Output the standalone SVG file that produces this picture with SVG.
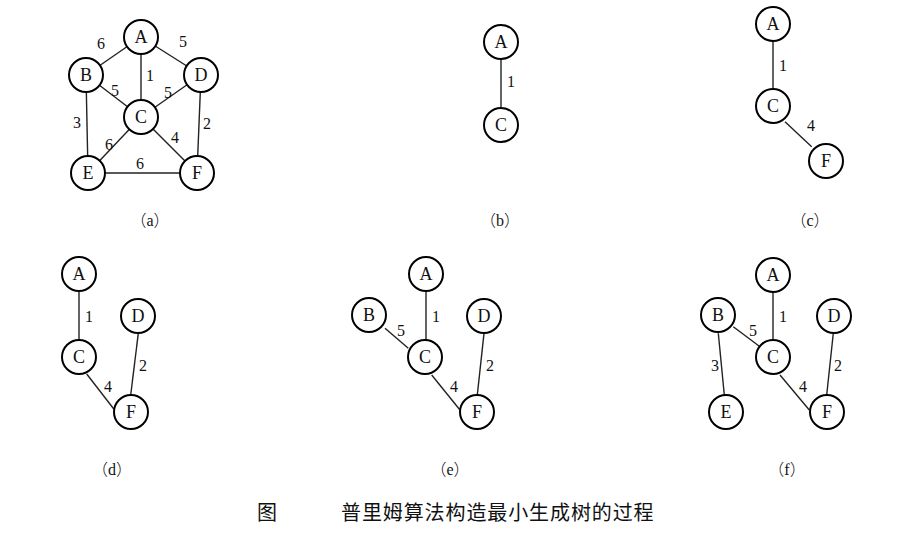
<svg xmlns="http://www.w3.org/2000/svg" width="908" height="535" viewBox="0 0 908 535">
<style>
.n circle{fill:#fff;stroke:#000;stroke-width:2}
.n text{font-family:"Liberation Serif","Times New Roman",serif;font-size:18px;text-anchor:middle;fill:#111}
.e line{stroke:#222;stroke-width:1.4}
.w{font-family:"Liberation Serif","Times New Roman",serif;font-size:16px;text-anchor:middle;fill:#111}
.cap{font-family:"Liberation Serif","Times New Roman",serif;font-size:16px;text-anchor:middle;fill:#111}
.p{font-family:"Noto Sans CJK TC",sans-serif;font-weight:300}
.title{font-family:"Noto Sans CJK SC",serif;font-size:20px;fill:#111}
</style>
<rect width="908" height="535" fill="#fff"/>
<g id="connectors" class="e">
<!-- a -->
<line x1="141" y1="37" x2="86" y2="75"/>
<line x1="141" y1="37" x2="201" y2="75"/>
<line x1="141" y1="37" x2="141" y2="117"/>
<line x1="86" y1="75" x2="141" y2="117"/>
<line x1="201" y1="75" x2="141" y2="117"/>
<line x1="86" y1="75" x2="88" y2="173"/>
<line x1="201" y1="75" x2="197" y2="173"/>
<line x1="141" y1="117" x2="88" y2="173"/>
<line x1="141" y1="117" x2="197" y2="173"/>
<line x1="88" y1="173" x2="197" y2="173"/>
<!-- b -->
<line x1="501" y1="42" x2="501" y2="125"/>
<!-- c -->
<line x1="773" y1="24" x2="773" y2="106"/>
<line x1="785" y1="121.7" x2="811.7" y2="146.7"/>
<!-- d -->
<line x1="79" y1="274" x2="79" y2="357"/>
<line x1="86.7" y1="374" x2="114" y2="409.3"/>
<line x1="138.3" y1="333.3" x2="130.7" y2="395"/>
<!-- e -->
<line x1="426" y1="274" x2="426" y2="357"/>
<line x1="385" y1="328.3" x2="408.3" y2="348.3"/>
<line x1="431.7" y1="375" x2="460" y2="410"/>
<line x1="484" y1="333.3" x2="477.3" y2="395"/>
<!-- f -->
<line x1="773" y1="275" x2="773" y2="357"/>
<line x1="733.3" y1="326.7" x2="760" y2="346.7"/>
<line x1="718.3" y1="333.3" x2="724.3" y2="395"/>
<line x1="780" y1="375" x2="809.3" y2="410"/>
<line x1="833.3" y1="333.3" x2="826.7" y2="395"/>
</g>
<g id="weights">
<text class="w" x="101" y="49">6</text>
<text class="w" x="183" y="47">5</text>
<text class="w" x="150" y="81">1</text>
<text class="w" x="115" y="96">5</text>
<text class="w" x="168" y="98">5</text>
<text class="w" x="77" y="128">3</text>
<text class="w" x="207" y="129">2</text>
<text class="w" x="109" y="150">6</text>
<text class="w" x="175" y="143">4</text>
<text class="w" x="140" y="169">6</text>
<text class="w" x="511" y="87">1</text>
<text class="w" x="783" y="71">1</text>
<text class="w" x="811" y="131">4</text>
<text class="w" x="89" y="322">1</text>
<text class="w" x="143" y="371">2</text>
<text class="w" x="108" y="392">4</text>
<text class="w" x="436" y="322">1</text>
<text class="w" x="401" y="336">5</text>
<text class="w" x="490" y="371">2</text>
<text class="w" x="454" y="392">4</text>
<text class="w" x="783" y="322">1</text>
<text class="w" x="753" y="336">5</text>
<text class="w" x="715" y="371">3</text>
<text class="w" x="838" y="371">2</text>
<text class="w" x="803" y="392">4</text>
</g>
<g id="a-A" class="n"><circle cx="141" cy="37" r="17"/><text x="141" y="43">A</text></g>
<g id="a-B" class="n"><circle cx="86" cy="75" r="17"/><text x="86" y="81">B</text></g>
<g id="a-D" class="n"><circle cx="201" cy="75" r="17"/><text x="201" y="81">D</text></g>
<g id="a-C" class="n"><circle cx="141" cy="117" r="17"/><text x="141" y="123">C</text></g>
<g id="a-E" class="n"><circle cx="88" cy="173" r="17"/><text x="88" y="179">E</text></g>
<g id="a-F" class="n"><circle cx="197" cy="173" r="17"/><text x="197" y="179">F</text></g>
<g id="b-A" class="n"><circle cx="501" cy="42" r="17"/><text x="501" y="48">A</text></g>
<g id="b-C" class="n"><circle cx="501" cy="125" r="17"/><text x="501" y="131">C</text></g>
<g id="c-A" class="n"><circle cx="773" cy="24" r="17"/><text x="773" y="30">A</text></g>
<g id="c-C" class="n"><circle cx="773" cy="106" r="17"/><text x="773" y="112">C</text></g>
<g id="c-F" class="n"><circle cx="826" cy="161" r="17"/><text x="826" y="167">F</text></g>
<g id="d-A" class="n"><circle cx="79" cy="274" r="17"/><text x="79" y="280">A</text></g>
<g id="d-D" class="n"><circle cx="138" cy="316" r="17"/><text x="138" y="322">D</text></g>
<g id="d-C" class="n"><circle cx="79" cy="357" r="17"/><text x="79" y="363">C</text></g>
<g id="d-F" class="n"><circle cx="131" cy="412" r="17"/><text x="131" y="418">F</text></g>
<g id="e-A" class="n"><circle cx="426" cy="274" r="17"/><text x="426" y="280">A</text></g>
<g id="e-B" class="n"><circle cx="369" cy="315" r="17"/><text x="369" y="321">B</text></g>
<g id="e-D" class="n"><circle cx="484" cy="316" r="17"/><text x="484" y="322">D</text></g>
<g id="e-C" class="n"><circle cx="425" cy="357" r="17"/><text x="425" y="363">C</text></g>
<g id="e-F" class="n"><circle cx="477" cy="412" r="17"/><text x="477" y="418">F</text></g>
<g id="f-A" class="n"><circle cx="773" cy="275" r="17"/><text x="773" y="281">A</text></g>
<g id="f-B" class="n"><circle cx="718" cy="315" r="17"/><text x="718" y="321">B</text></g>
<g id="f-D" class="n"><circle cx="834" cy="316" r="17"/><text x="834" y="322">D</text></g>
<g id="f-C" class="n"><circle cx="773" cy="357" r="17"/><text x="773" y="363">C</text></g>
<g id="f-E" class="n"><circle cx="726" cy="412" r="17"/><text x="726" y="418">E</text></g>
<g id="f-F" class="n"><circle cx="827" cy="412" r="17"/><text x="827" y="418">F</text></g>
<g id="captions">
<text class="cap" x="150" y="226"><tspan class="p">（</tspan>a<tspan class="p">）</tspan></text>
<text class="cap" x="500" y="226"><tspan class="p">（</tspan>b<tspan class="p">）</tspan></text>
<text class="cap" x="810" y="226"><tspan class="p">（</tspan>c<tspan class="p">）</tspan></text>
<text class="cap" x="112" y="475"><tspan class="p">（</tspan>d<tspan class="p">）</tspan></text>
<text class="cap" x="450" y="475"><tspan class="p">（</tspan>e<tspan class="p">）</tspan></text>
<text class="cap" x="787" y="475"><tspan class="p">（</tspan>f<tspan class="p">）</tspan></text>
<text class="title" x="257" y="520">图</text>
<text class="title" x="341" y="520" letter-spacing="0.9">普里姆算法构造最小生成树的过程</text>
</g>
</svg>
